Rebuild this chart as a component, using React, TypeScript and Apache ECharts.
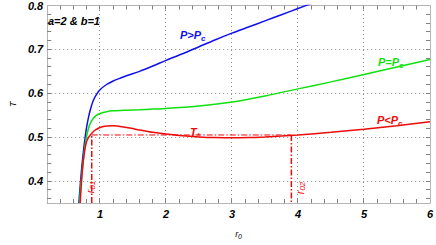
import React, { useEffect, useRef } from "react";
import * as echarts from "echarts";

const blueCurve: [number, number][] = [
  [0.68, 0.35], [0.70, 0.39], [0.72, 0.425], [0.74, 0.455], [0.76, 0.482], [0.78, 0.505],
  [0.80, 0.525], [0.83, 0.548], [0.86, 0.566], [0.90, 0.584], [0.95, 0.598], [1.0, 0.608],
  [1.1, 0.620], [1.2, 0.628], [1.3, 0.634], [1.4, 0.640], [1.6, 0.650], [1.8, 0.662],
  [2.0, 0.675], [2.25, 0.690], [2.5, 0.706], [2.75, 0.722], [3.0, 0.737], [3.25, 0.751],
  [3.5, 0.765], [3.75, 0.779], [4.0, 0.793], [4.25, 0.807],
];
const greenCurve: [number, number][] = [
  [0.69, 0.35], [0.71, 0.39], [0.73, 0.423], [0.75, 0.452], [0.77, 0.476], [0.79, 0.496],
  [0.82, 0.517], [0.85, 0.531], [0.90, 0.543], [0.95, 0.550], [1.0, 0.554], [1.1, 0.558],
  [1.2, 0.560], [1.4, 0.5615], [1.6, 0.5625], [1.8, 0.564], [2.0, 0.5655], [2.5, 0.571],
  [3.0, 0.580], [3.5, 0.594], [4.0, 0.610], [4.5, 0.626], [5.0, 0.643], [5.5, 0.660],
  [6.0, 0.677],
];
const redCurve: [number, number][] = [
  [0.70, 0.35], [0.71, 0.375], [0.72, 0.398], [0.73, 0.418], [0.74, 0.435], [0.76, 0.461],
  [0.78, 0.479], [0.80, 0.491], [0.83, 0.500], [0.86, 0.506], [0.90, 0.513], [0.95, 0.518],
  [1.0, 0.522], [1.1, 0.5255], [1.2, 0.526], [1.4, 0.522], [1.6, 0.5165], [1.8, 0.511],
  [2.0, 0.507], [2.25, 0.503], [2.5, 0.5005], [2.75, 0.499], [3.0, 0.4985], [3.25, 0.499],
  [3.5, 0.5005], [3.75, 0.5025], [4.0, 0.505], [4.5, 0.511], [5.0, 0.518], [5.5, 0.526],
  [6.0, 0.535],
];
const Tc = 0.505;
const r01 = 0.875;
const r02 = 3.9;

const X_MIN = 0.2;
const X_MAX = 6;
const Y_MIN = 0.35;
const Y_MAX = 0.8;

const xMinorTicks = [0.4, 0.6, 0.8, 1.0, 1.2, 1.4, 1.6, 1.8, 2.0, 2.2, 2.4, 2.6, 2.8, 3.0,
  3.2, 3.4, 3.6, 3.8, 4.0, 4.2, 4.4, 4.6, 4.8, 5.0, 5.2, 5.4, 5.6, 5.8];
const yMinorTicks = [0.36, 0.38, 0.40, 0.42, 0.44, 0.46, 0.48, 0.50, 0.52, 0.54, 0.56, 0.58,
  0.60, 0.62, 0.64, 0.66, 0.68, 0.70, 0.72, 0.74, 0.76, 0.78];
const xGrid = [1, 2, 3, 4, 5];
const yGrid = [0.4, 0.5, 0.6, 0.7];

const BLUE = "#1010ee";
const GREEN = "#10e010";
const RED = "#ee0a0a";
const FRAME = "#b4b4b4";
const TICK = "#808080";
const GRID = "#8c8c8c";
const FONT = "Liberation Sans";

export default function App() {
  const ref = useRef<HTMLDivElement>(null);
  useEffect(() => {
    if (!ref.current) return;
    const chart = echarts.init(ref.current, null, { renderer: "svg" });
    const labelStyle = {
      color: "#000",
      fontWeight: "bold" as const,
      fontStyle: "italic" as const,
      fontSize: 11,
      fontFamily: FONT,
    };
    const frameLine = { show: true, onZero: false, lineStyle: { color: FRAME, width: 1 } };
    const curve = (name: string, data: [number, number][], color: string) => ({
      type: "line" as const,
      name,
      data,
      showSymbol: false,
      smooth: 0.3,
      lineStyle: { color, width: 1.5 },
      silent: true,
      z: 5,
    });
    const dashDot = (data: [number, number][], width: number) => ({
      type: "line" as const,
      data,
      showSymbol: false,
      lineStyle: { color: RED, width, type: [6, 2, 1.5, 2] as any },
      silent: true,
      z: 4,
    });
    const rich = (color: string, bold: boolean, main: number, sub: number, pad: number) => ({
      m: { fill: color, fontSize: main, fontWeight: bold ? "bold" : "normal", fontStyle: "italic", fontFamily: FONT },
      s: { fill: color, fontSize: sub, fontWeight: bold ? "bold" : "normal", fontStyle: "italic", fontFamily: FONT, padding: [pad, 0, 0, 0] },
    });
    const texts: any[] = [
      {
        type: "text", left: 48, top: 15, z: 20,
        style: { text: "a=2 & b=1", fill: "#000", font: `italic bold 11px "${FONT}"` },
      },
      {
        type: "text", x: 180, y: 35, z: 20,
        style: { text: "{m|P>P}{s|c}", verticalAlign: "middle", rich: rich(BLUE, true, 11, 8, 6) },
      },
      {
        type: "text", x: 378, y: 62, z: 20,
        style: { text: "{m|P=P}{s|c}", verticalAlign: "middle", rich: rich(GREEN, true, 11, 8, 6) },
      },
      {
        type: "text", x: 377, y: 120, z: 20,
        style: { text: "{m|P<P}{s|c}", verticalAlign: "middle", rich: rich(RED, true, 11, 8, 6) },
      },
      {
        type: "text", x: 190, y: 132, z: 20,
        style: { text: "{m|T}{s|*}", verticalAlign: "middle", rich: rich(RED, true, 11, 8, 6) },
      },
      {
        type: "text", x: 90, y: 187, rotation: Math.PI / 2, z: 20,
        style: { text: "{m|r}{s|01}", align: "center", verticalAlign: "middle", rich: rich(RED, false, 11, 8, 5) },
      },
      {
        type: "text", x: 300, y: 188, rotation: Math.PI / 2, z: 20,
        style: { text: "{m|r}{s|02}", align: "center", verticalAlign: "middle", rich: rich(RED, false, 11, 8, 5) },
      },
    ];
    chart.setOption({
      animation: false,
      grid: { left: 36, right: 4, top: 5, bottom: 33, containLabel: false },
      xAxis: [
        {
          type: "value",
          min: X_MIN,
          max: X_MAX,
          position: "bottom",
          axisLine: frameLine,
          axisTick: { show: false },
          splitLine: { show: false },
          axisLabel: {
            ...labelStyle,
            margin: 5,
            formatter: (v: number) => {
              const r = Math.round(v);
              return Math.abs(v - r) < 1e-6 ? String(r) : "";
            },
          },
          name: "r{s|0}",
          nameLocation: "middle",
          nameGap: 25,
          nameTextStyle: {
            color: "#000", fontStyle: "italic", fontSize: 9, fontFamily: FONT,
            rich: { s: { fontSize: 7, fontStyle: "italic", fontFamily: FONT, padding: [5, 0, 0, 0] } },
          },
        },
        {
          type: "value", min: X_MIN, max: X_MAX, position: "top",
          axisLine: frameLine, axisTick: { show: false }, splitLine: { show: false }, axisLabel: { show: false },
        },
      ],
      yAxis: [
        {
          type: "value",
          min: Y_MIN,
          max: Y_MAX,
          position: "left",
          axisLine: frameLine,
          axisTick: { show: false },
          splitLine: { show: false },
          axisLabel: {
            ...labelStyle,
            margin: 4,
            formatter: (v: number) => {
              const r = Math.round(v * 10) / 10;
              return Math.abs(v - r) < 1e-6 ? r.toFixed(1) : "";
            },
          },
          name: "T",
          nameLocation: "middle",
          nameGap: 28,
          nameTextStyle: { color: "#000", fontStyle: "italic", fontSize: 9, fontFamily: FONT },
        },
        {
          type: "value", min: Y_MIN, max: Y_MAX, position: "right",
          axisLine: frameLine, axisTick: { show: false }, splitLine: { show: false }, axisLabel: { show: false },
        },
      ],
      series: [
        dashDot([[r01, Y_MIN], [r01, Tc]], 1.5),
        dashDot([[r01, Tc], [r02, Tc]], 1),
        dashDot([[r02, Tc], [r02, Y_MIN]], 1.5),
        curve("P>Pc", blueCurve, BLUE),
        curve("P=Pc", greenCurve, GREEN),
        curve("P<Pc", redCurve, RED),
      ],
      graphic: texts,
    });

    // grid lines and ticks placed through the chart's own scales, snapped to crisp pixels
    const px = (x: number, y: number) => chart.convertToPixel({ xAxisIndex: 0, yAxisIndex: 0 }, [x, y]) as number[];
    const snap = (v: number) => Math.round(v - 0.5) + 0.5;
    const ln = (x1: number, y1: number, x2: number, y2: number, style: any) => ({
      type: "line", silent: true, z: 4,
      shape: { x1, y1, x2, y2 },
      style,
    });
    const gridStyle = { stroke: GRID, lineWidth: 1, lineDash: [1, 3] };
    const tickStyle = { stroke: TICK, lineWidth: 1 };
    const lines: any[] = [];
    xGrid.forEach((v) => {
      const b = px(v, Y_MIN);
      const t = px(v, Y_MAX);
      const x = snap(b[0]);
      lines.push(ln(x, b[1], x, t[1], gridStyle));
    });
    yGrid.forEach((v) => {
      const l = px(X_MIN, v);
      const r = px(X_MAX, v);
      const y = snap(l[1]);
      lines.push(ln(l[0], y, r[0], y, gridStyle));
    });
    xMinorTicks.forEach((v) => {
      const b = px(v, Y_MIN);
      const t = px(v, Y_MAX);
      const x = snap(b[0]);
      lines.push(ln(x, b[1], x, b[1] - 4, tickStyle));
      lines.push(ln(x, t[1], x, t[1] + 4, tickStyle));
    });
    yMinorTicks.forEach((v) => {
      const l = px(X_MIN, v);
      const r = px(X_MAX, v);
      const y = snap(l[1]);
      lines.push(ln(l[0], y, l[0] + 4, y, tickStyle));
      lines.push(ln(r[0], y, r[0] - 4, y, tickStyle));
    });
    chart.setOption({ graphic: [...texts, ...lines] }, { replaceMerge: ["graphic"] });

    return () => chart.dispose();
  }, []);
  return (
    <div
      ref={ref}
      style={{ position: "absolute", left: 0, top: 0, width: 436, height: 245, background: "#fff" }}
    />
  );
}
